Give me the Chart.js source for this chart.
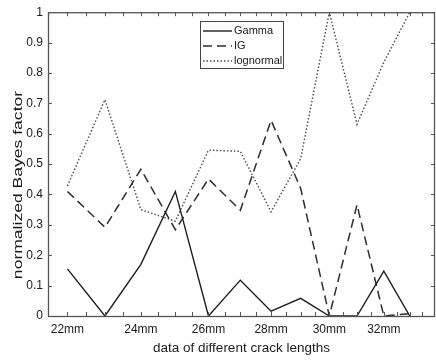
<!DOCTYPE html>
<html>
<head>
<meta charset="utf-8">
<script src="https://cdn.jsdelivr.net/npm/chart.js@4.4.1/dist/chart.umd.min.js"></script>
<style>
  body { margin: 0; background: #fff; }
</style>
</head>
<body>
<canvas id="chart" width="436" height="360"></canvas>
<script>
// longueurs de fissure (mm) et facteurs de Bayes normalisés
const crackLengths = [22, 23, 24, 25, 26, 27, 28, 29, 30, 31, 32, 33];
const gamma = [0.155, 0, 0.17, 0.41, 0, 0.118, 0.016, 0.058, 0, 0, 0.148, 0];
const ig = [0.41, 0.292, 0.483, 0.284, 0.451, 0.348, 0.644, 0.42, 0, 0.366, 0, 0.008];
const lognormal = [0.428, 0.712, 0.35, 0.312, 0.546, 0.542, 0.343, 0.518, 1, 0.631, 0.835, 1];

// graduations
const xTicks = [22, 22.5, 23, 23.5, 24, 24.5, 25, 25.5, 26, 26.5, 27, 27.5,
                28, 28.5, 29, 29.5, 30, 30.5, 31, 31.5, 32, 32.5, 33, 33.5];
const xLabelled = [22, 24, 26, 28, 30, 32];
const yTicks = [0, 0.1, 0.2, 0.3, 0.4, 0.5, 0.6, 0.7, 0.8, 0.9, 1];

const FONT = 'Liberation Sans, Arial, sans-serif';
const TXT = '#1a1a1a';

function toPoints(values) {
  return crackLengths.map((c, i) => ({ x: c, y: values[i] }));
}

// cadre + graduations vers l'intérieur (style matlab)
const frameTicks = {
  id: 'frameTicks',
  afterDatasetsDraw(chart) {
    const { ctx, chartArea: a, scales: { x, y } } = chart;
    ctx.save();
    ctx.strokeStyle = '#555';
    ctx.lineWidth = 1;
    ctx.beginPath();
    x.ticks.forEach(t => {
      const px = Math.round(x.getPixelForValue(t.value)) + 0.5;
      ctx.moveTo(px, a.bottom); ctx.lineTo(px, a.bottom - 4);
      ctx.moveTo(px, a.top); ctx.lineTo(px, a.top + 4);
    });
    y.ticks.forEach(t => {
      const py = Math.round(y.getPixelForValue(t.value)) + 0.5;
      ctx.moveTo(a.left, py); ctx.lineTo(a.left + 4, py);
      ctx.moveTo(a.right, py); ctx.lineTo(a.right - 4, py);
    });
    ctx.stroke();
    ctx.lineWidth = 1.3;
    ctx.strokeRect(a.left + 0.5, a.top + 0.5, a.right - a.left - 1, a.bottom - a.top);
    ctx.restore();
  }
};

// légende encadrée
const boxLegend = {
  id: 'boxLegend',
  afterDraw(chart) {
    const ctx = chart.ctx;
    const bx = 200, by = 21, bw = 83, bh = 47;
    ctx.save();
    ctx.fillStyle = '#fff';
    ctx.fillRect(bx, by, bw, bh);
    ctx.strokeStyle = '#444';
    ctx.lineWidth = 1;
    ctx.strokeRect(bx + 0.5, by + 0.5, bw, bh);
    ctx.font = '11px ' + FONT;
    ctx.textBaseline = 'middle';
    chart.data.datasets.forEach((ds, i) => {
      const ly = by + 10 + i * 15;
      ctx.strokeStyle = ds.borderColor;
      ctx.lineWidth = ds.borderWidth;
      ctx.setLineDash(ds.borderDash || []);
      ctx.beginPath();
      ctx.moveTo(bx + 3, ly); ctx.lineTo(bx + 32, ly);
      ctx.stroke();
      ctx.setLineDash([]);
      ctx.fillStyle = TXT;
      ctx.fillText(ds.label, bx + 34, ly);
    });
    ctx.restore();
  }
};

// titre de l'axe y (un peu étiré comme sur l'original)
const yTitle = {
  id: 'yTitle',
  afterDraw(chart) {
    const ctx = chart.ctx;
    ctx.save();
    ctx.translate(22, 185);
    ctx.rotate(-Math.PI / 2);
    ctx.scale(1.3, 1);
    ctx.font = '13.5px ' + FONT;
    ctx.fillStyle = TXT;
    ctx.textAlign = 'center';
    ctx.textBaseline = 'alphabetic';
    ctx.fillText('normalized Bayes factor', 0, 0);
    ctx.restore();
  }
};

const ctx = document.getElementById('chart');

new Chart(ctx, {
  type: 'line',
  data: {
    datasets: [
      { label: 'Gamma', data: toPoints(gamma), borderColor: '#1e1e1e', borderWidth: 1.4 },
      { label: 'IG', data: toPoints(ig), borderColor: '#2e2e2e', borderWidth: 1.5, borderDash: [9, 5] },
      { label: 'lognormal', data: toPoints(lognormal), borderColor: '#4a4a4a', borderWidth: 1.4, borderDash: [1.5, 2] }
    ]
  },
  options: {
    responsive: false,
    animation: false,
    layout: { padding: { top: 10, right: 1, left: 0, bottom: 0 } },
    elements: {
      point: { radius: 0 },
      line: { tension: 0, fill: false }
    },
    plugins: {
      legend: { display: false },
      tooltip: { enabled: false }
    },
    scales: {
      x: {
        type: 'logarithmic',
        min: 21.5,
        max: 34,
        afterBuildTicks: scale => { scale.ticks = xTicks.map(v => ({ value: v })); },
        afterFit: scale => { scale.height = 44; },
        grid: { display: false, drawTicks: false },
        border: { display: false },
        ticks: {
          autoSkip: false,
          maxRotation: 0,
          padding: 6,
          color: TXT,
          font: { family: FONT, size: 12 },
          callback: v => xLabelled.includes(v) ? v + 'mm' : ''
        },
        title: {
          display: true,
          text: 'data of different crack lengths',
          color: TXT,
          font: { family: FONT, size: 13.5 },
          padding: { top: 0, bottom: 4 }
        }
      },
      y: {
        min: 0,
        max: 1,
        afterBuildTicks: scale => { scale.ticks = yTicks.map(v => ({ value: v })); },
        afterFit: scale => { scale.width = 48; },
        grid: { display: false, drawTicks: false },
        border: { display: false },
        ticks: {
          padding: 5,
          color: TXT,
          font: { family: FONT, size: 12 },
          callback: v => String(v)
        }
      }
    }
  },
  plugins: [frameTicks, boxLegend, yTitle]
});
</script>
</body>
</html>
